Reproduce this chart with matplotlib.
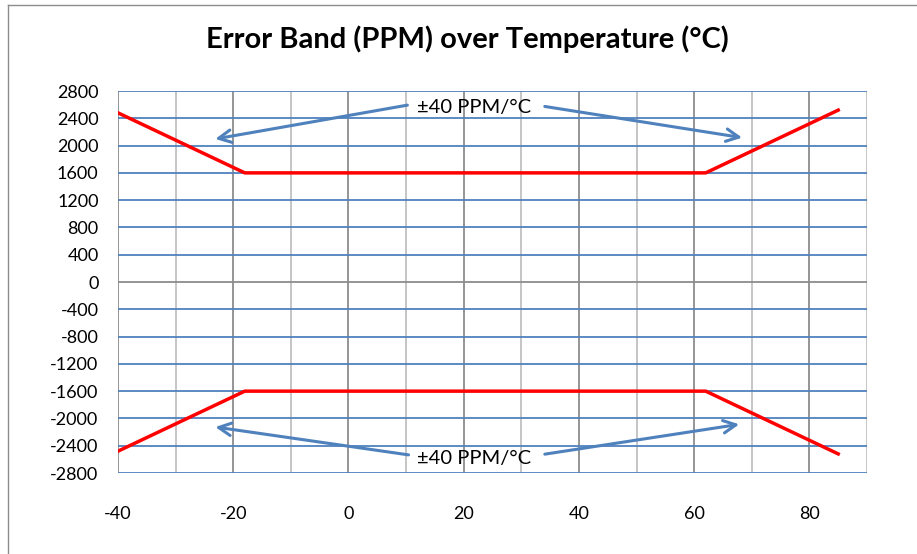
import matplotlib
matplotlib.use('Agg')
import matplotlib.pyplot as plt
from matplotlib.lines import Line2D

# datos
temp_sup = [-40, -18, 62, 85]
ppm_sup = [2480, 1600, 1600, 2520]
temp_inf = [-40, -18, 62, 85]
ppm_inf = [-2480, -1600, -1600, -2520]

etiqueta = '±40 PPM/°C'
# flechas: (inicio x, inicio y, fin x, fin y)
flechas_sup = [(10.7, 2600, -23.6, 2090), (33.6, 2580, 68.8, 2110)]
flechas_inf = [(10.9, -2540, -23.6, -2120), (33.6, -2530, 68.3, -2080)]

yticks = list(range(-2800, 2801, 400))
xticks = [-40, -20, 0, 20, 40, 60, 80]
xminor = [-30, -10, 10, 30, 50, 70, 90]

plt.rcParams['font.family'] = ['Lato', 'DejaVu Sans']
plt.rcParams['axes.unicode_minus'] = False

fig = plt.figure(figsize=(9.17, 5.54), dpi=100)
ax = fig.add_axes([0.1287, 0.1462, 0.8168, 0.6895])

# borde del grafico
fig.add_artist(Line2D([0.009, 0.009], [0.0, 0.991], transform=fig.transFigure, color='#8c8c8c', lw=1))
fig.add_artist(Line2D([0.009, 1.0], [0.991, 0.991], transform=fig.transFigure, color='#8c8c8c', lw=1))

ax.set_xlim(-40, 90)
ax.set_ylim(-2800, 2800)

# rejilla
for x in xminor:
    ax.axvline(x, color='#c0c0c0', lw=1.3, zorder=1)
for x in xticks:
    ax.axvline(x, color='#8c8c8c', lw=1.3, zorder=1)
for y in yticks:
    if y == 0:
        ax.axhline(y, color='#8c8c8c', lw=1.3, zorder=1)
    else:
        ax.axhline(y, color='#4f81bd', lw=1.3, zorder=1)

ax.plot(temp_sup, ppm_sup, color='#ff0000', lw=2.5, zorder=3)
ax.plot(temp_inf, ppm_inf, color='#ff0000', lw=2.5, zorder=3)

ax.text(21.8, 2560, etiqueta, ha='center', va='center', fontsize=14.5, zorder=4)
ax.text(21.8, -2590, etiqueta, ha='center', va='center', fontsize=14.5, zorder=4)

for x0, y0, x1, y1 in flechas_sup + flechas_inf:
    ax.annotate('', xy=(x1, y1), xytext=(x0, y0),
                arrowprops=dict(arrowstyle='->,head_length=0.9,head_width=0.45',
                                color='#4f81bd', lw=2.2), zorder=4)

ax.set_xticks(xticks)
ax.set_yticks(yticks)
ax.tick_params(axis='both', length=0, labelsize=13)
ax.tick_params(axis='x', pad=24)
ax.tick_params(axis='y', pad=14)
for s in ax.spines.values():
    s.set_visible(False)

fig.suptitle('Error Band (PPM) over Temperature (°C)', x=0.51, y=0.955,
             fontsize=21, fontweight='bold')

fig.savefig('out.png', dpi=100)
